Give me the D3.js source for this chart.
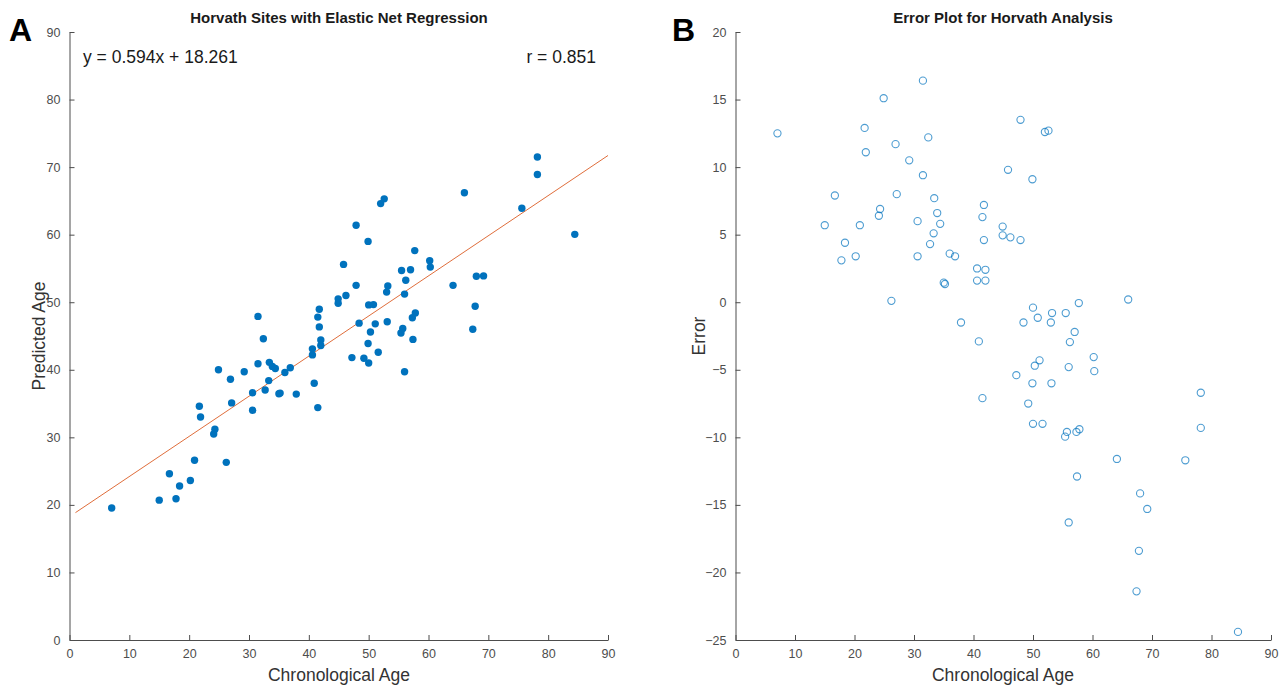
<!DOCTYPE html>
<html><head><meta charset="utf-8">
<script src="https://cdn.jsdelivr.net/npm/d3@7"></script>
<style>
body{margin:0;background:#fff;}
svg{font-family:"Liberation Sans",Arial,Helvetica,sans-serif;}
.tick text{fill:#4d4d4d;font-size:12.5px;}
.domain,.tick line{stroke:#4d4d4d;}
</style></head>
<body><svg id="c" width="1288" height="689"></svg>
<script>
const chronAge = [7.05,15.0,16.7,17.8,18.4,20.2,20.9,21.7,21.9,24.1,24.3,24.9,26.2,26.9,27.1,29.2,30.6,30.6,31.5,31.5,32.4,32.7,33.3,33.4,33.9,34.4,35.0,35.2,36.0,36.9,37.9,40.6,40.6,40.9,41.5,41.75,41.75,41.5,42.0,42.0,44.9,44.9,45.8,46.2,47.2,47.9,47.9,48.4,49.2,49.9,50.0,49.9,50.0,50.3,50.8,51.1,51.6,52.0,52.6,53.0,53.2,53.1,55.5,55.4,55.7,56.0,56.2,56.0,57.0,57.4,57.3,57.8,57.7,60.2,60.3,64.1,66.0,67.4,67.8,68.0,69.2,75.6,78.2,78.2,84.45];
const predictedAge = [19.55,20.7,24.6,20.9,22.8,23.6,26.6,34.6,33.0,30.5,31.2,40.0,26.3,38.6,35.1,39.7,36.6,34.0,47.9,40.9,44.6,37.0,38.4,41.1,40.5,40.2,36.45,36.55,39.6,40.3,36.4,43.1,42.2,38.0,47.8,48.95,46.35,34.4,44.4,43.6,50.5,49.85,55.6,51.0,41.8,52.5,61.4,46.9,41.7,59.0,49.6,43.9,41.0,45.6,49.65,46.8,42.6,64.6,65.3,51.5,52.4,47.1,54.7,45.45,46.1,51.2,53.25,39.7,54.8,44.5,47.7,48.4,57.64,56.14,55.2,52.5,66.2,46.0,49.4,53.85,53.9,63.9,71.5,68.9,60.05];
const errorVals = [12.5,5.7,7.9,3.1,4.4,3.4,5.7,12.9,11.1,6.4,6.9,15.1,0.1,11.7,8.0,10.5,6.0,3.4,16.4,9.4,12.2,4.3,5.1,7.7,6.6,5.8,1.45,1.35,3.6,3.4,-1.5,2.5,1.6,-2.9,6.3,7.2,4.6,-7.1,2.4,1.6,5.6,4.95,9.8,4.8,-5.4,4.6,13.5,-1.5,-7.5,9.1,-0.4,-6.0,-9.0,-4.7,-1.15,-4.3,-9.0,12.6,12.7,-1.5,-0.8,-6.0,-0.8,-9.95,-9.6,-4.8,-2.95,-16.3,-2.2,-12.9,-9.6,-9.4,-0.06,-4.06,-5.1,-11.6,0.2,-21.4,-18.4,-14.15,-15.3,-11.7,-6.7,-9.3,-24.4];
const fitSlope = 0.594, fitIntercept = 18.261, fitRange = [1, 90];
const rValue = "r = 0.851";
const eqText = "y = 0.594x + 18.261";
const xTicks = [0,10,20,30,40,50,60,70,80,90];
const yTicksA = [0,10,20,30,40,50,60,70,80,90];
const yTicksB = [-25,-20,-15,-10,-5,0,5,10,15,20];

const svg = d3.select("#c");
const blue = "#0072BD", orange = "#D95319";

function panel(x0, x1, y0, y1, yDom, yTicks) {
  const x = d3.scaleLinear().domain([0,90]).range([x0,x1]);
  const y = d3.scaleLinear().domain(yDom).range([y1,y0]);
  const g = svg.append("g");
  g.append("g").attr("transform",`translate(0,${y1})`)
    .call(d3.axisBottom(x).tickValues(xTicks).tickSizeInner(-5).tickSizeOuter(0).tickPadding(9));
  g.append("g").attr("transform",`translate(${x0},0)`)
    .call(d3.axisLeft(y).tickValues(yTicks).tickSizeInner(-5).tickSizeOuter(0).tickPadding(9));
  return {x,y,g};
}

// Panel A
const A = panel(69.5, 608, 32, 640, [0,90], yTicksA);
A.g.append("line")
  .attr("x1",A.x(fitRange[0])).attr("y1",A.y(fitSlope*fitRange[0]+fitIntercept))
  .attr("x2",A.x(fitRange[1])).attr("y2",A.y(fitSlope*fitRange[1]+fitIntercept))
  .attr("stroke",orange).attr("stroke-opacity",0.85).attr("stroke-width",1);
A.g.selectAll("circle.p").data(chronAge).join("circle")
  .attr("cx",(d)=>A.x(d)).attr("cy",(d,i)=>A.y(predictedAge[i])).attr("r",3.7).attr("fill",blue);
A.g.append("text").attr("x",83).attr("y",63).attr("font-size",17.5).attr("fill","#1a1a1a").text(eqText);
A.g.append("text").attr("x",596).attr("y",63).attr("font-size",17.5).attr("fill","#1a1a1a").attr("text-anchor","end").text(rValue);
A.g.append("text").attr("x",339).attr("y",23).attr("text-anchor","middle").attr("font-size",15).attr("font-weight","bold").attr("fill","#1a1a1a").text("Horvath Sites with Elastic Net Regression");
A.g.append("text").attr("x",339).attr("y",681).attr("text-anchor","middle").attr("font-size",17.5).attr("fill","#333").text("Chronological Age");
A.g.append("text").attr("transform","translate(45,336) rotate(-90)").attr("text-anchor","middle").attr("font-size",17.5).attr("fill","#333").text("Predicted Age");
svg.append("text").attr("x",9).attr("y",41).attr("font-size",32).attr("font-weight","bold").text("A");

// Panel B
const B = panel(735.5, 1271, 32, 640, [-25,20], yTicksB);
B.g.selectAll("circle.p").data(chronAge).join("circle")
  .attr("cx",(d)=>B.x(d)).attr("cy",(d,i)=>B.y(errorVals[i])).attr("r",3.6)
  .attr("fill","none").attr("stroke",blue).attr("stroke-opacity",0.7).attr("stroke-width",1.1);
B.g.append("text").attr("x",1003).attr("y",23).attr("text-anchor","middle").attr("font-size",15).attr("font-weight","bold").attr("fill","#1a1a1a").text("Error Plot for Horvath Analysis");
B.g.append("text").attr("x",1003).attr("y",681).attr("text-anchor","middle").attr("font-size",17.5).attr("fill","#333").text("Chronological Age");
B.g.append("text").attr("transform","translate(705,336) rotate(-90)").attr("text-anchor","middle").attr("font-size",17.5).attr("fill","#333").text("Error");
svg.append("text").attr("x",672).attr("y",41).attr("font-size",32).attr("font-weight","bold").text("B");
</script></body></html>
